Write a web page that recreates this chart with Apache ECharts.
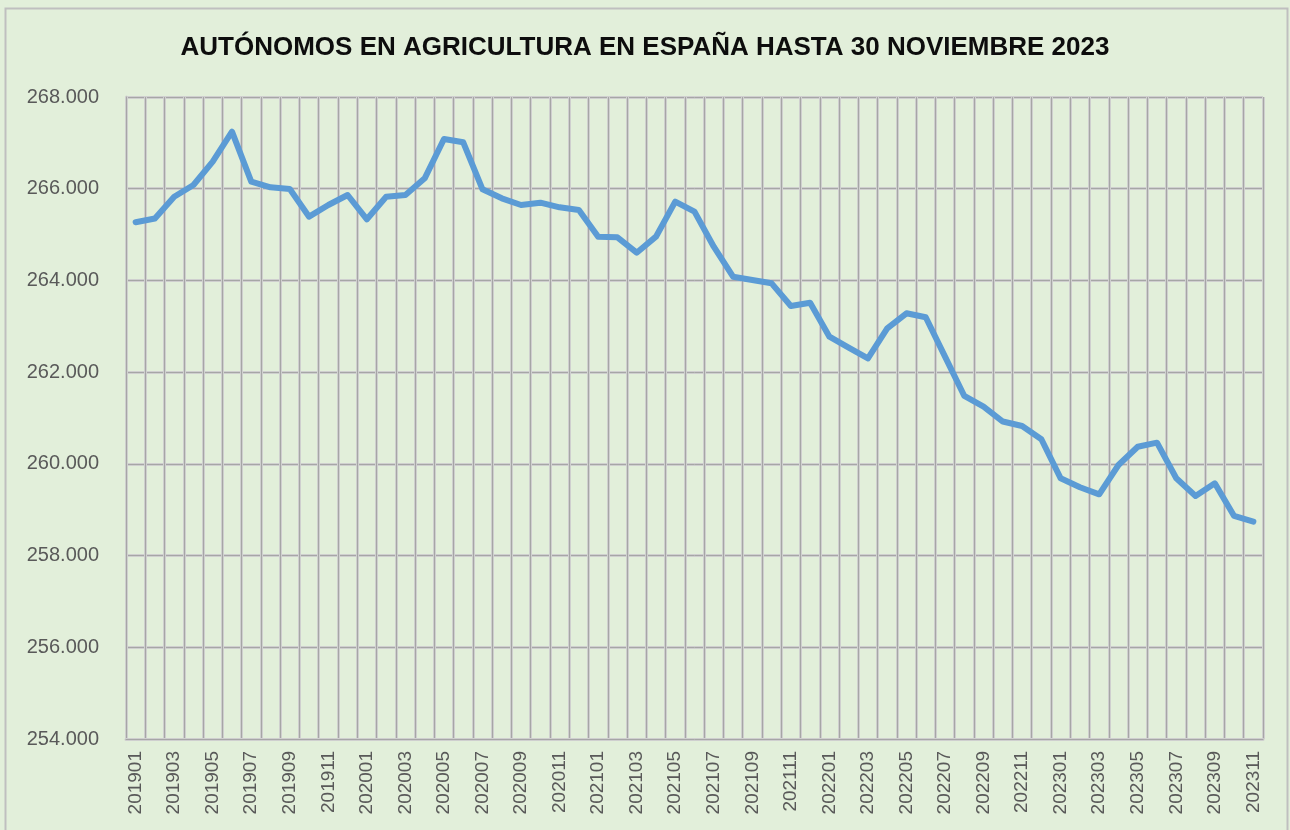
<!DOCTYPE html>
<html>
<head>
<meta charset="utf-8">
<script src="https://cdn.jsdelivr.net/npm/echarts@6/dist/echarts.min.js"></script>
<style>
  html, body { margin: 0; padding: 0; background: #e2efda; }
  #chart { width: 1290px; height: 830px; }
</style>
</head>
<body>
<div id="chart"></div>
<script>
var months = ['201901','201902','201903','201904','201905','201906','201907','201908','201909','201910','201911','201912',
  '202001','202002','202003','202004','202005','202006','202007','202008','202009','202010','202011','202012',
  '202101','202102','202103','202104','202105','202106','202107','202108','202109','202110','202111','202112',
  '202201','202202','202203','202204','202205','202206','202207','202208','202209','202210','202211','202212',
  '202301','202302','202303','202304','202305','202306','202307','202308','202309','202310','202311'];

var autonomos = [265270, 265350, 265826, 266081, 266590, 267244, 266153, 266030, 265994, 265390, 265645, 265863,
  265333, 265826, 265863, 266227, 267084, 267012, 265987, 265791, 265645, 265696, 265594, 265536,
  264954, 264940, 264605, 264954, 265718, 265500, 264735, 264082, 264010, 263937, 263442, 263514,
  262773, 262533, 262300, 262954, 263283, 263196, 262337, 261480, 261247, 260923, 260826, 260536,
  259685, 259489, 259336, 259975, 260374, 260462, 259685, 259299, 259576, 258863, 258739];

var yMin = 254000, yMax = 268000, yStep = 2000;

var font = "'Liberation Sans', Arial, sans-serif";

var myChart = echarts.init(document.getElementById('chart'));

var option = {
  backgroundColor: '#e2efda',
  animation: false,
  title: {
    text: 'AUTÓNOMOS EN AGRICULTURA EN ESPAÑA HASTA 30 NOVIEMBRE 2023',
    left: 'center',
    top: 30,
    textStyle: { fontFamily: font, fontWeight: 'bold', fontSize: 26, color: '#0d0d0d' }
  },
  graphic: [{
    type: 'rect',
    shape: { x: 5.5, y: 8.5, width: 1282, height: 830 },
    style: { fill: 'none', stroke: '#bfbfbf', lineWidth: 2 },
    silent: true
  }],
  grid: { left: 126, top: 97, width: 1137, height: 642 },
  xAxis: [{
    type: 'category',
    data: months,
    boundaryGap: true,
    axisLine: { show: true, lineStyle: { color: '#cfcfcf', width: 3 } },
    axisTick: { show: false },
    splitLine: { show: true, interval: 0, lineStyle: { color: '#cfcfcf', width: 3 } },
    axisLabel: {
      interval: 1, rotate: 90, margin: 12,
      fontFamily: font, fontSize: 19, color: '#595959'
    }
  }, {
    type: 'category',
    data: months,
    boundaryGap: true,
    position: 'bottom',
    axisLine: { show: true, lineStyle: { color: '#a6a6a6', width: 1 } },
    axisTick: { show: false },
    axisLabel: { show: false },
    splitLine: { show: true, interval: 0, lineStyle: { color: '#a6a6a6', width: 1 } }
  }],
  yAxis: [{
    type: 'value',
    min: yMin, max: yMax, interval: yStep,
    axisLine: { show: true, lineStyle: { color: '#cfcfcf', width: 3 } },
    axisTick: { show: false },
    splitLine: { show: true, lineStyle: { color: '#cfcfcf', width: 3 } },
    axisLabel: {
      margin: 27,
      fontFamily: font, fontSize: 20, color: '#595959',
      formatter: function (v) { return (v / 1000).toFixed(3); }
    }
  }, {
    type: 'value',
    min: yMin, max: yMax, interval: yStep,
    position: 'left',
    axisLine: { show: true, lineStyle: { color: '#a6a6a6', width: 1 } },
    axisTick: { show: false },
    axisLabel: { show: false },
    splitLine: { show: true, lineStyle: { color: '#a6a6a6', width: 1 } }
  }],
  series: [{
    name: 'Autónomos',
    type: 'line',
    data: autonomos,
    symbol: 'none',
    lineStyle: { color: '#5b9bd5', width: 6, cap: 'round', join: 'round' },
    z: 5
  }]
};

myChart.setOption(option);
</script>
</body>
</html>
